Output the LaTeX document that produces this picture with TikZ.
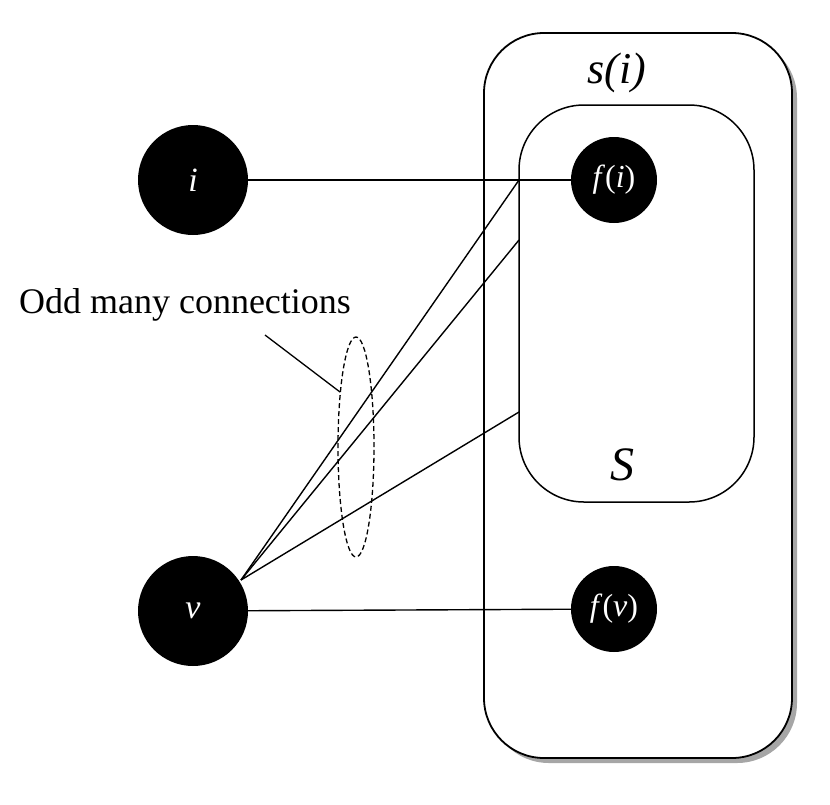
\documentclass[tikz,border=0pt]{standalone}
\usepackage{fontspec}
\setmainfont{Liberation Serif}
\usetikzlibrary{positioning}
\begin{document}
\begin{tikzpicture}[x=1pt,y=-1pt]
  \tikzstyle{bigdot}=[circle,fill=black,minimum size=110pt,inner sep=0pt,text=white,font=\fontsize{34}{36}\selectfont\itshape]
  \tikzstyle{smalldot}=[circle,fill=black,minimum size=86pt,inner sep=0pt,text=white,font=\fontsize{32}{34}\selectfont]
  \useasboundingbox (0,0) rectangle (830,804);
  % outer box with shadow
  \fill[black!35,rounded corners=60pt] (489,38) rectangle (797,763);
  \draw[line width=1.8pt,fill=white,rounded corners=60pt] (484,33) rectangle (792,758);
  \draw[line width=1.5pt,rounded corners=65pt] (519,105) rectangle (754,502);
  \node[font=\fontsize{44}{46}\selectfont\itshape] (si) at (617,73) {s(i)};
  \node[font=\fontsize{48}{50}\selectfont\itshape] (S) at (622,465) {S};
  % nodes
  \node[bigdot] (i) at (193,180) {i};
  \node[bigdot] (v) at (193,611) {v};
  \node[smalldot] (fi) at (614,180) {\textit{f}(\textit{i})};
  \node[smalldot] (fv) at (614,609) {\textit{f}(\textit{v})};
  \coordinate (a) at (519,180);
  \coordinate (b) at (519,240);
  \coordinate (c) at (519,412);
  \coordinate (vv) at (241,580);
  % edges
  \draw[line width=1.4pt] (i) -- (fi);
  \draw[line width=1.4pt] (v) -- (fv);
  \foreach \t in {a,b,c}
    \draw[line width=1.4pt] (vv) -- (\t);
  % annotation
  \draw[dash pattern=on 5pt off 3pt,line width=1.3pt] (356,447) ellipse (18pt and 110pt);
  \node[font=\fontsize{36}{38}\selectfont] (odd) at (185,305) {Odd many connections};
  \draw[line width=1.3pt] (265,335) -- (340,392);
\end{tikzpicture}
\end{document}
